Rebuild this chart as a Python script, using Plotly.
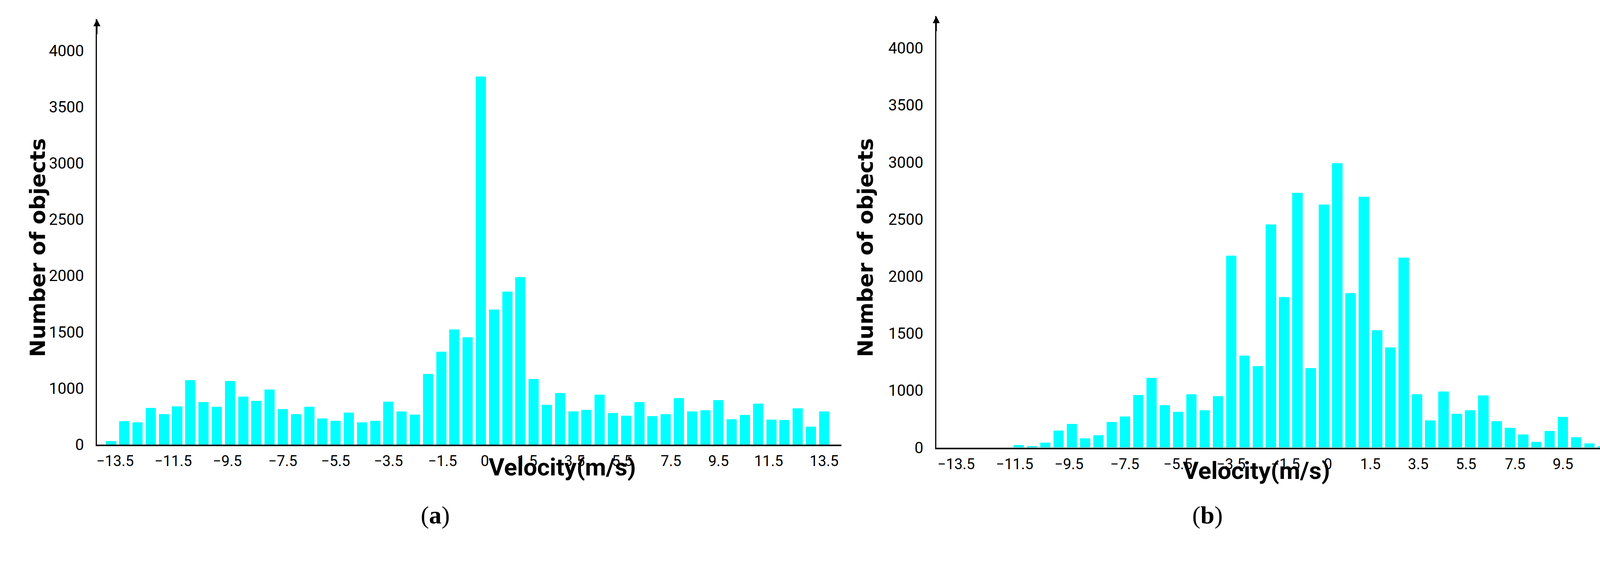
import plotly.graph_objects as go

# bin slot index (0..54) ; tick labels as in the reference
tick_labels = ["−13.5", "−11.5", "−9.5", "−7.5", "−5.5", "−3.5", "−1.5", "0",
               "1.5", "3.5", "5.5", "7.5", "9.5", "11.5", "13.5"]
tick_slots = [0.3, 4.7, 8.8, 13, 17, 21, 25.1, 28.3, 31.5, 35.1, 38.7, 42.4, 46, 49.8, 54]

counts_a = [63, 415, 390, 648, 541, 679, 1072, 755, 673, 1063, 849, 774, 975, 629, 541,
            673, 459, 421, 566, 396, 421, 761, 585, 535, 1127, 1324, 1522, 1454, 3770,
            1698, 1858, 1987, 1083, 702, 912, 585, 616, 887, 560, 509, 755, 503, 541,
            824, 585, 610, 786, 447, 522, 723, 440, 434, 642, 314, 585]
counts_b = [0, 0, 0, 0, 0, 43, 19, 86, 296, 414, 160, 210, 444, 543, 920, 1111, 741,
            623, 932, 648, 895, 2179, 1306, 1213, 2454, 1818, 2731, 1194, 2627, 2991,
            1852, 2698, 1525, 1377, 2164, 932, 475, 981, 586, 648, 914, 457, 346, 228,
            99, 290, 537, 179, 68, 19, 43, 43, 12, 0, 0]
y_tick_labels = ["0", "1000", "1500", "2000", "2500", "3000", "3500", "4000"]
y_tick_values = [0, 1000, 1500, 2000, 2500, 3000, 3500, 4000]

def disp(v):
    # the reference's vertical axis is compressed below 1000
    return v / 2 if v <= 1000 else v - 500

slots = list(range(55))
CY = "#00FFFF"
TF = "Liberation Sans Narrow, Roboto"

fig = go.Figure()
fig.add_trace(go.Bar(x=slots, y=[disp(v) for v in counts_a], marker_color=CY,
                     marker_line_width=0, width=0.77, xaxis="x", yaxis="y",
                     customdata=counts_a, hovertemplate="%{customdata}<extra></extra>"))
fig.add_trace(go.Bar(x=slots, y=[disp(v) for v in counts_b], marker_color=CY,
                     marker_line_width=0, width=0.77, xaxis="x2", yaxis="y2",
                     customdata=counts_b, hovertemplate="%{customdata}<extra></extra>"))

def xax(domain, rng, anchor):
    return dict(domain=domain, range=rng, anchor=anchor, showgrid=False, zeroline=False,
                showline=True, linecolor="black", linewidth=4, ticks="",
                tickvals=tick_slots, ticktext=tick_labels,
                tickfont=dict(family=TF, size=38, color="black"),
                ticklabelstandoff=6)

def yax(domain, anchor):
    return dict(domain=domain, range=[0, 3780], anchor=anchor, showgrid=False,
                zeroline=False, showline=True, linecolor="black", linewidth=3, ticks="",
                tickvals=[disp(v) for v in y_tick_values], ticktext=y_tick_labels,
                tickfont=dict(family=TF, size=40, color="black"),
                ticklabelstandoff=22)

fig.update_layout(
    width=4397, height=1450, margin=dict(l=0, r=0, t=0, b=0),
    paper_bgcolor="white", plot_bgcolor="white", showlegend=False, bargap=0,
    xaxis=xax([0.0562, 0.4897], [-1.08, 55.3], "y"),
    yaxis=yax([0.2014, 0.9655], "x"),
    xaxis2=xax([0.545, 0.9927], [-1.2, 56.7], "y2"),
    yaxis2=yax([0.196, 0.971], "x2"),
)

ann = []
for ax_, x in (("x", -1.08), ("x2", -1.2)):
    yref = "y" if ax_ == "x" else "y2"
    ann.append(dict(x=x, y=3780, xref=ax_, yref=yref, ax=0, ay=40, showarrow=True,
                    arrowhead=2, arrowsize=1.2, arrowwidth=3, arrowcolor="black", text=""))
ann.append(dict(x=56.7, y=0, xref="x2", yref="y2", ax=-40, ay=0, showarrow=True,
                arrowhead=2, arrowsize=1.2, arrowwidth=3, arrowcolor="black", text=""))
for x, y in ((1248, 1256), (3407, 1265)):
    ann.append(dict(x=x / 4397, y=1 - y / 1450, xref="paper", yref="paper", showarrow=False,
                    text="<b>Velocity(m/s)</b>",
                    font=dict(family="Liberation Sans Narrow, Roboto", size=62, color="black")))
for x, y in ((62, 645), (2215, 645)):
    ann.append(dict(x=x / 4397, y=1 - y / 1450, xref="paper", yref="paper", showarrow=False,
                    text="<b>Number of objects</b>", textangle=-90,
                    font=dict(family="DejaVu Sans", size=54, color="black")))
for x, t in ((1074, "(<b>a</b>)"), (3132, "(<b>b</b>)")):
    ann.append(dict(x=x / 4397, y=1 - 1380 / 1450, xref="paper", yref="paper",
                    showarrow=False, text=t,
                    font=dict(family="Liberation Serif", size=64, color="black")))
fig.update_layout(annotations=ann)

fig.write_html("out.html")
with open("out.html", encoding="utf-8") as f:
    html = f.read()
html = html.replace("<body>", '<body style="margin:0;padding:0;overflow:hidden">', 1)
html = html.replace("<head>", "<head><style>html,body{margin:0;padding:0;overflow:hidden}</style>", 1)
with open("out.html", "w", encoding="utf-8") as f:
    f.write(html)
